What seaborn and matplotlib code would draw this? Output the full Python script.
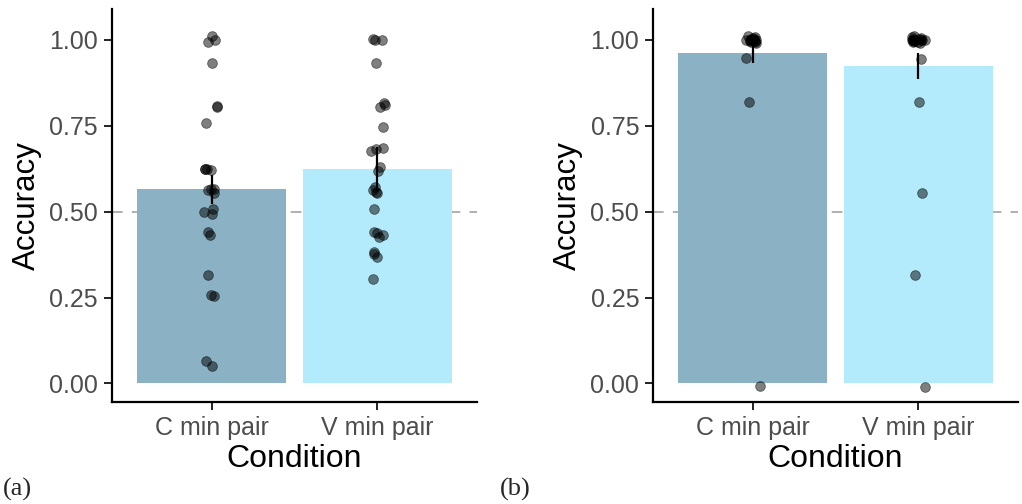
import numpy as np
import matplotlib
matplotlib.use("Agg")
import matplotlib.pyplot as plt
import pandas as pd
import seaborn as sns

# -------------------- Data --------------------

conditions = ["C min pair", "V min pair"]
bar_colors = ["#8AB2C4", "#B3EBFC"]

# panel (a)
a_means = [0.565, 0.625]
a_se = [0.042, 0.064]
a_c_points = [1.01, 1.00, 0.995, 0.933, 0.808, 0.804, 0.758, 0.625, 0.623, 0.620,
              0.625, 0.567, 0.565, 0.563, 0.553, 0.507, 0.500, 0.493, 0.440, 0.432,
              0.315, 0.254, 0.256, 0.066, 0.052]
a_v_points = [1.00, 1.00, 1.002, 0.932, 0.815, 0.810, 0.804, 0.746, 0.684, 0.682,
              0.678, 0.631, 0.619, 0.573, 0.563, 0.558, 0.555, 0.508, 0.440, 0.437,
              0.432, 0.425, 0.382, 0.377, 0.367, 0.305]

# panel (b)
b_means = [0.961, 0.924]
b_se = [0.029, 0.039]
b_c_points = [1.01, 1.005, 1.0, 1.0, 0.995, 0.99, 1.0, 1.008, 0.998, 1.002,
              0.993, 1.0, 1.004, 0.997, 1.0, 0.947, 0.818, -0.008]
b_v_points = [1.01, 1.005, 1.0, 1.0, 0.995, 0.99, 1.0, 1.008, 0.998, 1.002,
              0.993, 1.0, 1.004, 0.997, 1.0, 0.944, 0.818, 0.553, 0.315, -0.01]

yticks = [0.0, 0.25, 0.5, 0.75, 1.0]
ytick_labels = ["0.00", "0.25", "0.50", "0.75", "1.00"]

# -------------------- Plotting --------------------

sns.set_theme(style="white")
plt.rcParams["font.family"] = ["Liberation Sans", "DejaVu Sans"]

fig = plt.figure(figsize=(10.22, 5.04), dpi=100)
ax_a = fig.add_axes([0.1096, 0.2024, 0.3571, 0.7798])
ax_b = fig.add_axes([0.639, 0.2024, 0.3571, 0.7798])

np.random.seed(3)


def draw_panel(ax, means, se, c_pts, v_pts):
    ax.axhline(0.5, color="#9a9a9a", lw=1.1, dashes=(7, 6), zorder=0)
    sns.barplot(x=conditions, y=means, hue=conditions, palette=bar_colors,
                saturation=1, width=0.9, errorbar=None, legend=False, ax=ax,
                zorder=1, linewidth=0)
    df = pd.DataFrame({
        "Condition": [conditions[0]] * len(c_pts) + [conditions[1]] * len(v_pts),
        "Accuracy": c_pts + v_pts,
    })
    sns.stripplot(data=df, x="Condition", y="Accuracy", order=conditions,
                  color="black", alpha=0.5, size=7, jitter=0.045,
                  linewidth=0.6, edgecolor="black", ax=ax, zorder=3)
    ax.errorbar(x=range(len(conditions)), y=means, yerr=se, fmt="none",
                ecolor="black", elinewidth=1.6, capsize=0, zorder=4)

    ax.set_xlim(-0.6, 1.6)
    ax.set_ylim(-0.054, 1.09)
    ax.set_yticks(yticks)
    ax.set_yticklabels(ytick_labels)
    ax.set_xlabel("Condition", fontsize=23, color="black", labelpad=3)
    ax.set_ylabel("Accuracy", fontsize=22.5, color="black", labelpad=5)
    ax.tick_params(axis="both", labelsize=18, labelcolor="#4D4D4D",
                   length=6, width=1.4, color="#222222", pad=4,
                   left=True, bottom=True)
    for side in ["top", "right"]:
        ax.spines[side].set_visible(False)
    for side in ["left", "bottom"]:
        ax.spines[side].set_color("black")
        ax.spines[side].set_linewidth(1.6)


draw_panel(ax_a, a_means, a_se, a_c_points, a_v_points)
draw_panel(ax_b, b_means, b_se, b_c_points, b_v_points)

fig.text(0.003, 0.006, "(a)", fontsize=19, family=["Liberation Serif"], va="bottom")
fig.text(0.489, 0.006, "(b)", fontsize=19, family=["Liberation Serif"], va="bottom")

fig.savefig("out.png", dpi=100)
